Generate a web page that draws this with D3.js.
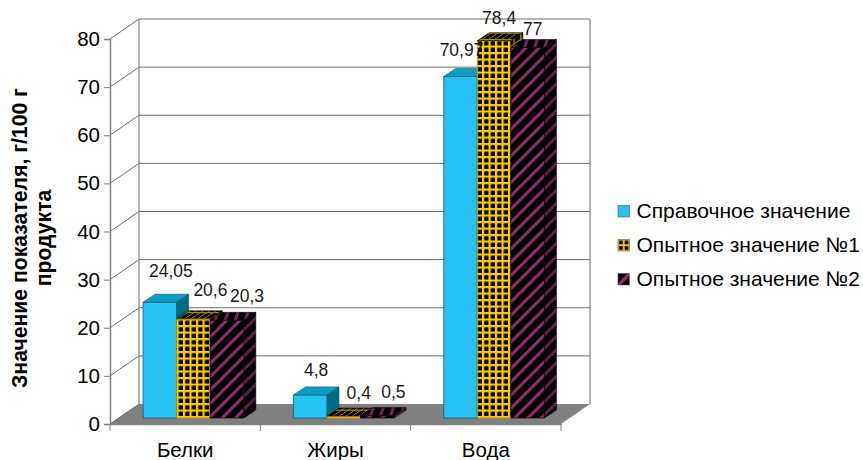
<!DOCTYPE html>
<html lang="ru">
<head>
<meta charset="utf-8">
<script src="https://cdn.jsdelivr.net/npm/d3@7/dist/d3.min.js"></script>
<style>
  html, body { margin: 0; padding: 0; background: #fff; }
  svg { display: block; font-family: "Liberation Sans", Arial, sans-serif; }
</style>
</head>
<body>
<svg id="chart" width="863" height="460"></svg>
<script>
// Chart data
const categories = ["Белки", "Жиры", "Вода"];
const seriesNames = ["Справочное значение", "Опытное значение №1", "Опытное значение №2"];
const reference = [24.05, 4.8, 70.97];
const trial1 = [20.6, 0.4, 78.4];
const trial2 = [20.3, 0.5, 77];
const labels = [
  ["24,05", "4,8", "70,97"],
  ["20,6", "0,4", "78,4"],
  ["20,3", "0,5", "77"]
];
const yTicks = [0, 10, 20, 30, 40, 50, 60, 70, 80];

// Label placement relative to each bar's top centre, [series][category] = [dx, dy]
const labelShift = [
  [[11, -25], [6, -19], [1, -20]],
  [[17, -23], [15, -17], [5, -17]],
  [[20, -18], [16, -18], [5, -12]]
];

const svg = d3.select("#chart");
const defs = svg.append("defs");

// Plot box: front plane plus the oblique offset of the back wall
const frontLeft = 110, frontRight = 561, depthX = 29, depthY = -20;
const barDepthX = 12, barDepthY = -8, barLift = 6;

const y = d3.scaleLinear().domain([0, 80]).range([424, 39]);
const x0 = d3.scaleBand().domain(categories).range([frontLeft, frontRight]);
const bw = x0.bandwidth();
const x1 = d3.scaleBand().domain(d3.range(3)).range([bw * 0.22, bw * 0.89]);

const gridColor = "#808080", thin = "#6e6e6e";

// Fill definitions for the hatched bars
function gridPattern(id, bg, line, lw, transform) {
  const p = defs.append("pattern").attr("id", id)
    .attr("patternUnits", "userSpaceOnUse").attr("width", 6.5).attr("height", 6.5);
  if (transform) p.attr("patternTransform", transform);
  p.append("rect").attr("width", 6.5).attr("height", 6.5).attr("fill", bg);
  p.append("rect").attr("width", lw).attr("height", 6.5).attr("fill", line);
  p.append("rect").attr("width", 6.5).attr("height", lw).attr("fill", line);
}
function stripePattern(id, bg, line, transform) {
  const p = defs.append("pattern").attr("id", id)
    .attr("patternUnits", "userSpaceOnUse").attr("width", 9.4).attr("height", 9.4)
    .attr("patternTransform", transform);
  p.append("rect").attr("width", 9.4).attr("height", 9.4).attr("fill", bg);
  p.append("rect").attr("width", 3).attr("height", 9.4).attr("fill", line);
}
gridPattern("gridFront", "#000", "#ffcc00", 2.2, "translate(1,0)");
gridPattern("gridTop", "#000", "#a8860a", 1.3, "skewX(-56)");
gridPattern("gridSide", "#000", "#a8860a", 1.3, "skewY(-34)");
stripePattern("stripeFront", "#000", "#8f2d70", "rotate(45)");
stripePattern("stripeTop", "#000", "#70265a", "rotate(20)");
stripePattern("stripeSide", "#000", "#5f2049", "rotate(45)");

const faces = [
  { front: "#26c3f2", top: "#0e9cc4", side: "#006b85", stroke: "#005d74" },
  { front: "url(#gridFront)", top: "url(#gridTop)", side: "url(#gridSide)", stroke: "#c79c00" },
  { front: "url(#stripeFront)", top: "url(#stripeTop)", side: "url(#stripeSide)", stroke: "#1a0a12" }
];

const pts = a => a.map(p => p.join(",")).join(" ");

// Walls and floor
const y0 = y(0), yMax = y(80);
const walls = svg.append("g");
walls.append("polygon")
  .attr("points", pts([[frontLeft, y0], [frontLeft + depthX, y0 + depthY],
                       [frontRight + depthX, y0 + depthY], [frontRight, y0]]))
  .attr("fill", "#808080");
walls.append("g").selectAll("polyline").data(yTicks.slice(1)).join("polyline")
  .attr("points", d => pts([[frontLeft, y(d)], [frontLeft + depthX, y(d) + depthY], [frontRight + depthX, y(d) + depthY]]))
  .attr("fill", "none").attr("stroke", thin).attr("stroke-width", 1);
walls.append("line")
  .attr("x1", frontLeft + depthX).attr("x2", frontLeft + depthX)
  .attr("y1", yMax + depthY).attr("y2", y0 + depthY)
  .attr("stroke", gridColor).attr("stroke-width", 1.2);
walls.append("line")
  .attr("x1", frontRight + depthX).attr("x2", frontRight + depthX)
  .attr("y1", yMax + depthY).attr("y2", y0 + depthY)
  .attr("stroke", gridColor).attr("stroke-width", 1.2);
walls.append("line")
  .attr("x1", frontLeft).attr("x2", frontLeft + depthX)
  .attr("y1", y0).attr("y2", y0 + depthY)
  .attr("stroke", thin);

// Axes
const yAxis = d3.axisLeft(y).tickValues(yTicks).tickSize(6).tickPadding(4).tickFormat(d3.format("d"));
const gy = svg.append("g").attr("transform", `translate(${frontLeft},0)`).call(yAxis);
gy.selectAll("text").attr("font-size", 20.5).attr("font-family", "Liberation Sans").attr("fill", "#000");
gy.selectAll("line").attr("stroke", gridColor);
gy.select(".domain").attr("stroke", gridColor).attr("stroke-width", 1.5);

const xAxis = d3.axisBottom(x0).tickSize(0).tickPadding(18);
const gx = svg.append("g").attr("transform", `translate(0,${y0})`).call(xAxis);
gx.selectAll("text").attr("font-size", 20.5).attr("font-family", "Liberation Sans").attr("fill", "#000");
gx.select(".domain").attr("stroke", gridColor).attr("stroke-width", 1.5);
gx.selectAll("line.sep").data([...categories.map(c => x0(c)), frontRight]).join("line")
  .attr("class", "sep").attr("x1", d => d).attr("x2", d => d)
  .attr("y1", 0).attr("y2", 7).attr("stroke", gridColor);

// Bars: each series is drawn in turn so later bars overlap the earlier side faces
[reference, trial1, trial2].forEach((values, s) => {
  const g = svg.append("g");
  values.forEach((v, c) => {
    const xl = x0(categories[c]) + x1(s), xr = xl + x1.bandwidth();
    const base = y(0) - barLift, top = y(v) - barLift;
    const f = faces[s];
    g.append("polygon")
      .attr("points", pts([[xl, base], [xl, top], [xr, top], [xr, base]]))
      .attr("fill", f.front).attr("stroke", f.stroke).attr("stroke-width", 0.8);
    g.append("polygon")
      .attr("points", pts([[xl, top], [xl + barDepthX, top + barDepthY], [xr + barDepthX, top + barDepthY], [xr, top]]))
      .attr("fill", f.top).attr("stroke", s === 0 ? f.stroke : "#000").attr("stroke-width", 0.6);
    g.append("polygon")
      .attr("points", pts([[xr, top], [xr + barDepthX, top + barDepthY], [xr + barDepthX, base + barDepthY], [xr, base]]))
      .attr("fill", f.side).attr("stroke", s === 0 ? f.stroke : "#000").attr("stroke-width", 0.6);
  });
});

// Value labels
const valueRows = [reference, trial1, trial2];
const labelLayer = svg.append("g").attr("font-size", 17.5).attr("fill", "#1a1a1a").attr("text-anchor", "middle");
valueRows.forEach((values, s) => {
  values.forEach((v, c) => {
    const xc = x0(categories[c]) + x1(s) + x1.bandwidth() / 2;
    const [dx, dy] = labelShift[s][c];
    labelLayer.append("text").attr("x", xc + dx).attr("y", y(v) - barLift + dy).text(labels[s][c]);
  });
});

// Axis title
const title = svg.append("text")
  .attr("transform", "translate(0,238) rotate(-90)")
  .attr("text-anchor", "middle").attr("font-size", 21.2).attr("font-weight", "bold").attr("fill", "#000");
title.append("tspan").attr("x", 0).attr("y", 27).text("Значение показателя, г/100 г");
title.append("tspan").attr("x", 0).attr("y", 51).text("продукта");

// Legend
const swatchGrid = defs.append("pattern").attr("id", "swatchGrid")
  .attr("patternContentUnits", "objectBoundingBox").attr("width", 1).attr("height", 1);
swatchGrid.append("rect").attr("width", 1).attr("height", 1).attr("fill", "#000");
[[0.42, 0, 0.16, 1], [0, 0.42, 1, 0.16], [0, 0, 0.1, 1], [0.9, 0, 0.1, 1], [0, 0, 1, 0.1], [0, 0.9, 1, 0.1]]
  .forEach(([a, b, w, h]) => swatchGrid.append("rect").attr("x", a).attr("y", b).attr("width", w).attr("height", h).attr("fill", "#ffcc00"));
const swatchStripe = defs.append("pattern").attr("id", "swatchStripe")
  .attr("patternContentUnits", "objectBoundingBox").attr("width", 1).attr("height", 1);
swatchStripe.append("rect").attr("width", 1).attr("height", 1).attr("fill", "#000");
swatchStripe.append("polygon").attr("points", "0,0.85 0,1 0.25,1 1,0.25 1,0 0.8,0").attr("fill", "#8f2d70");

const swatchFills = ["#26c3f2", "url(#swatchGrid)", "url(#swatchStripe)"];
const legendY = d3.scalePoint().domain(seriesNames).range([211, 279]);
const legend = svg.append("g").selectAll("g").data(seriesNames).join("g")
  .attr("transform", d => `translate(618,${legendY(d)})`);
legend.append("rect").attr("x", 0).attr("y", -5.5).attr("width", 11.5).attr("height", 11.5)
  .attr("fill", (d, i) => swatchFills[i]).attr("stroke", "#555").attr("stroke-width", 0.6);
legend.append("text").attr("x", 18.5).attr("y", 7).attr("font-size", 21).attr("fill", "#000").text(d => d);
</script>
</body>
</html>
